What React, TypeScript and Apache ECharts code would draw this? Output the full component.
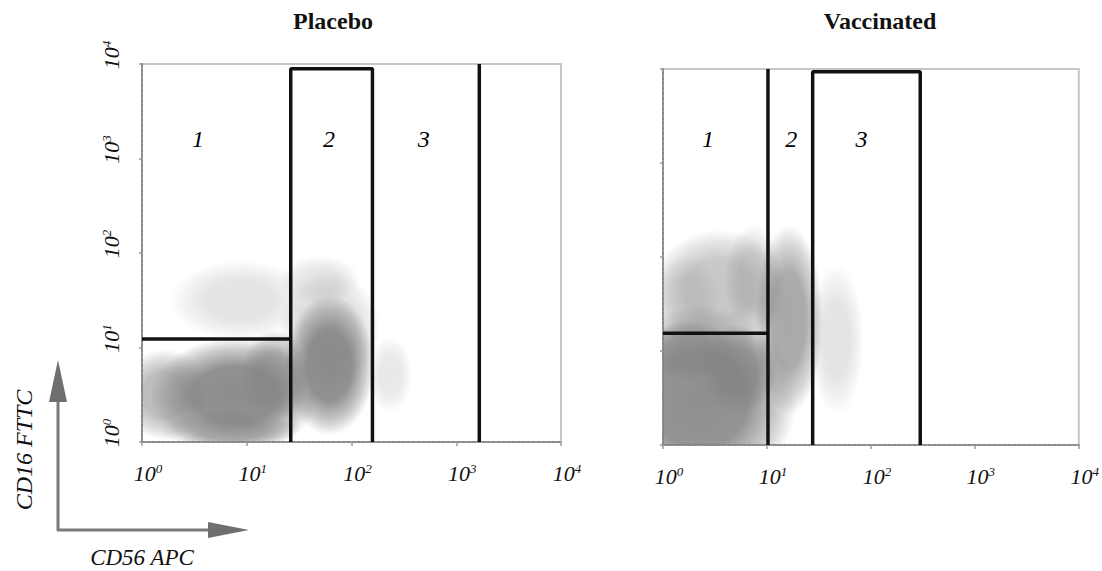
import React, { useEffect, useRef } from "react";
import * as echarts from "echarts";

const FONT = '"Liberation Serif", "Times New Roman", Times, serif';

// decade exponents on both log axes
const decades = [0, 1, 2, 3, 4];
const panelTitles = ["Placebo", "Vaccinated"];
const regionNames = ["1", "2", "3"];

// region label positions in log10 units [x, y]
const placeboRegionPos = [[0.535, 3.07], [1.785, 3.07], [2.69, 3.07]];
const vaccinatedRegionPos = [[0.433, 3.12], [1.233, 3.12], [1.91, 3.12]];

// gate polylines in log10 units
const placeboGates = [
  [[0, 1.09], [1.42, 1.09]],
  [[1.42, 0], [1.42, 3.95], [2.2, 3.95], [2.2, 0]],
  [[3.22, 0], [3.22, 4]],
];
const vaccinatedGates = [
  [[0, 1.19], [1.01, 1.19]],
  [[1.01, 0], [1.01, 4]],
  [[1.44, 0], [1.44, 3.97], [2.475, 3.97], [2.475, 0]],
];

// event density blobs: [x, y, radiusX, radiusY, density] in log10 units
const placeboCloud = [
  [0.94, 1.5, 0.67, 0.42, 0.22],
  [1.7, 1.71, 0.38, 0.26, 0.2],
  [2.37, 0.71, 0.21, 0.4, 0.18],
  [1.79, 1.19, 0.48, 0.63, 0.3],
  [0.22, 0.5, 0.43, 0.48, 0.55],
  [0.84, 0.13, 0.67, 0.21, 0.5],
  [0.89, 0.5, 0.81, 0.6, 0.92],
  [1.27, 0.7, 0.33, 0.48, 0.65],
  [1.79, 0.81, 0.43, 0.74, 0.92],
];
const vaccinatedCloud = [
  [0.21, 1.54, 0.33, 0.48, 0.2],
  [0.54, 1.65, 0.66, 0.64, 0.45],
  [0.87, 1.76, 0.28, 0.59, 0.3],
  [1.67, 1.12, 0.26, 0.8, 0.22],
  [1.21, 1.33, 0.33, 1.01, 0.7],
  [0.35, 0.48, 0.94, 1.01, 0.9],
  [0.72, 0.8, 0.38, 0.48, 0.75],
  [0.25, 1.0, 0.45, 0.32, 0.65],
];

const grids = [
  { left: 142, top: 64, width: 419, height: 378 },
  { left: 663, top: 69, width: 425, height: 376 },
];

function blobRender(params: any, api: any) {
  const c = api.coord([api.value(0), api.value(1)]);
  const s = api.size([api.value(2), api.value(3)]);
  const a = api.value(4);
  const g = `rgba(130,130,130,`;
  return {
    type: "ellipse",
    shape: { cx: c[0], cy: c[1], rx: s[0], ry: s[1] },
    style: {
      fill: new echarts.graphic.RadialGradient(0.5, 0.5, 0.5, [
        { offset: 0, color: g + a + ")" },
        { offset: 0.5, color: g + a * 0.95 + ")" },
        { offset: 0.8, color: g + a * 0.45 + ")" },
        { offset: 1, color: g + "0)" },
      ]),
    },
  };
}

function axisLabelCfg(rot: number) {
  return {
    show: true,
    formatter: (v: number) => `{b|10}{s|${v}}`,
    rich: {
      b: { fontFamily: FONT, fontStyle: "italic", fontSize: 22, color: "#111" },
      s: { fontFamily: FONT, fontStyle: "italic", fontSize: 13, color: "#111", verticalAlign: "top" },
    },
    rotate: rot,
  };
}

export default function App() {
  const ref = useRef<HTMLDivElement>(null);
  useEffect(() => {
    const chart = echarts.init(ref.current!, null, { renderer: "svg" });
    const xAxis: any[] = [];
    const yAxis: any[] = [];
    const series: any[] = [];
    const clouds = [placeboCloud, vaccinatedCloud];
    const gates = [placeboGates, vaccinatedGates];
    const regions = [placeboRegionPos, vaccinatedRegionPos];
    grids.forEach((_, i) => {
      xAxis.push({
        type: "value", gridIndex: i, min: decades[0], max: decades[decades.length - 1], interval: 1,
        axisLine: { show: true, lineStyle: { color: "#8a8a8a", width: 2, type: [3, 2] } },
        axisTick: { show: true, length: 4, lineStyle: { color: "#9a9a9a", width: 1.5 } },
        splitLine: { show: false },
        axisLabel: { ...axisLabelCfg(0), margin: 20, padding: [0, 0, 0, 12] },
      });
      yAxis.push({
        type: "value", gridIndex: i, min: decades[0], max: decades[decades.length - 1], interval: 1,
        axisLine: { show: true, lineStyle: { color: "#8a8a8a", width: 2, type: [3, 2] } },
        axisTick: { show: true, length: 3, lineStyle: { color: "#9a9a9a", width: 1.5 } },
        splitLine: { show: false },
        axisLabel: { ...axisLabelCfg(90), margin: 20, show: i === 0, padding: [0, 0, 0, 18] },
      });
      series.push({
        type: "custom", xAxisIndex: i, yAxisIndex: i, clip: true, z: 1, silent: true,
        renderItem: blobRender, data: clouds[i], encode: { x: 0, y: 1 },
      });
      gates[i].forEach((g) => {
        series.push({
          type: "line", xAxisIndex: i, yAxisIndex: i, data: g, symbol: "none", z: 3, silent: true,
          lineStyle: { color: "#111", width: 3.5 },
        });
      });
      series.push({
        type: "scatter", xAxisIndex: i, yAxisIndex: i, symbol: "circle", symbolSize: 1, z: 4, silent: true,
        itemStyle: { color: "#ffffff", opacity: 0 },
        data: regions[i].map((p, k) => ({ value: p, name: regionNames[k] })),
        label: {
          show: true, position: "top", distance: 0, formatter: (p: any) => p.name,
          fontFamily: FONT, fontStyle: "italic", fontSize: 24, color: "#000", opacity: 1,
        },
      });
    });
    chart.setOption({
      animation: false,
      backgroundColor: "#ffffff",
      grid: grids.map((g) => ({ ...g, show: true, borderColor: "#c6c6c6", borderWidth: 2, backgroundColor: "transparent" })),
      xAxis,
      yAxis,
      series,
      graphic: [
        { type: "text", x: 333, y: 21, style: { text: panelTitles[0], font: `bold 24px ${FONT}`, fill: "#111", align: "center", verticalAlign: "middle" } },
        { type: "text", x: 880, y: 21, style: { text: panelTitles[1], font: `bold 24px ${FONT}`, fill: "#111", align: "center", verticalAlign: "middle" } },
        { type: "line", shape: { x1: 58, y1: 531, x2: 58, y2: 398 }, style: { stroke: "#7a7a7a", lineWidth: 3 } },
        { type: "polygon", shape: { points: [[49, 402], [67, 402], [58, 360]] }, style: { fill: "#6f6f6f" } },
        { type: "line", shape: { x1: 57, y1: 530, x2: 212, y2: 530 }, style: { stroke: "#7a7a7a", lineWidth: 3 } },
        { type: "polygon", shape: { points: [[208, 522], [208, 538], [249, 530]] }, style: { fill: "#6f6f6f" } },
        { type: "text", x: 24, y: 450, rotation: Math.PI / 2, style: { text: "CD16 FTTC", font: `italic 24px ${FONT}`, fill: "#111", align: "center", verticalAlign: "middle" } },
        { type: "text", x: 142, y: 557, style: { text: "CD56 APC", font: `italic 23px ${FONT}`, fill: "#111", align: "center", verticalAlign: "middle" } },
      ],
    });
    return () => chart.dispose();
  }, []);
  return <div ref={ref} style={{ position: "fixed", left: 0, top: 0, width: 1102, height: 571 }} />;
}
